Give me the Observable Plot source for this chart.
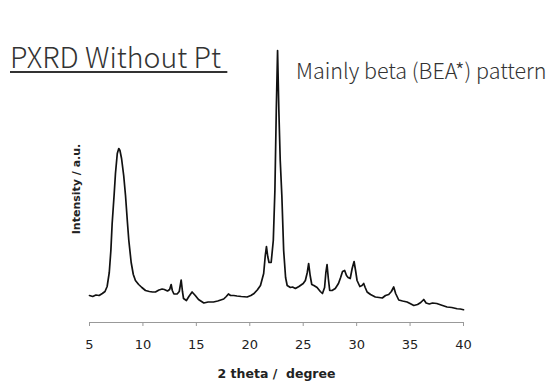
<!DOCTYPE html>
<html>
<head>
<meta charset="utf-8">
<script src="https://cdn.jsdelivr.net/npm/d3@7"></script>
<script src="https://cdn.jsdelivr.net/npm/@observablehq/plot@0.6"></script>
<style>
  html, body { margin: 0; padding: 0; background: #fff; }
  #wrap { position: relative; width: 550px; height: 381px; overflow: hidden; }
  #title { position: absolute; left: 10px; top: 35px; font-family: "Noto Sans CJK JP", "Noto Sans", sans-serif; font-size: 28.5px; font-weight: 300; color: #333; text-decoration: underline; text-decoration-thickness: 2px; text-underline-offset: 3px; white-space: pre; }
  #note { position: absolute; left: 296px; top: 54px; font-family: "Noto Sans CJK JP", "Noto Sans", sans-serif; font-size: 21.5px; font-weight: 300; color: #333; white-space: pre; }
</style>
</head>
<body>
<div id="wrap">
  <div id="chart"></div>
  <div id="title">PXRD Without Pt </div>
  <div id="note">Mainly beta (BEA*) pattern</div>
</div>
<script>
const twoTheta = [
  5.0, 5.3, 5.6, 5.9, 6.2, 6.45, 6.65, 6.85, 7.0, 7.12, 7.3, 7.43, 7.6, 7.74, 7.85, 8.0, 8.2, 8.37, 8.55, 8.68,
  8.9, 9.1, 9.3, 9.6, 9.9, 10.24, 10.6, 10.9, 11.17, 11.5, 11.8, 12.0, 12.3, 12.5, 12.64, 12.75, 12.9, 13.2, 13.4, 13.58,
  13.7, 13.8, 14.07, 14.3, 14.6, 14.9, 15.2, 15.7, 16.1, 16.6, 17.0, 17.56, 17.8, 18.0, 18.2, 18.5, 18.8, 19.2, 19.75, 20.1,
  20.4, 20.7, 21.0, 21.3, 21.45, 21.56, 21.68, 21.8, 22.0, 22.2, 22.35, 22.48, 22.6, 22.72, 22.85, 23.0, 23.17, 23.35, 23.5, 23.8,
  24.0, 24.27, 24.6, 25.0, 25.2, 25.38, 25.51, 25.65, 25.8, 26.0, 26.3, 26.6, 26.8, 27.0, 27.12, 27.23, 27.35, 27.48, 27.7, 28.0,
  28.3, 28.5, 28.68, 28.88, 29.05, 29.2, 29.4, 29.58, 29.76, 29.9, 30.04, 30.3, 30.5, 30.66, 30.8, 30.98, 31.3, 31.75, 32.1, 32.4,
  32.7, 33.0, 33.25, 33.47, 33.65, 33.94, 34.3, 34.72, 35.0, 35.35, 35.7, 36.0, 36.28, 36.5, 36.8, 37.1, 37.5, 37.9, 38.46, 38.9,
  39.4, 39.7, 40.0
];
const intensity = [
  1080, 1040, 1100, 1080, 1160, 1240, 1440, 2000, 2880, 3960, 5080, 5960, 6760, 6960, 6880, 6560, 5880, 5080, 4000, 3280,
  2400, 1920, 1680, 1520, 1400, 1280, 1240, 1220, 1220, 1300, 1340, 1320, 1260, 1320, 1520, 1280, 1140, 1140, 1240, 1700,
  1240, 960, 880, 1040, 1220, 1080, 920, 780, 820, 820, 860, 940, 1040, 1140, 1080, 1080, 1060, 1040, 1020, 1080,
  1160, 1300, 1480, 1960, 2680, 3040, 2640, 2400, 2400, 3280, 5280, 8480, 10880, 8480, 6480, 5080, 2880, 1800, 1480, 1400,
  1420, 1360, 1440, 1560, 1680, 2000, 2360, 1880, 1520, 1480, 1400, 1240, 1160, 1400, 2000, 2320, 1760, 1280, 1280, 1360,
  1560, 1800, 2040, 2080, 1880, 1800, 1760, 2160, 2440, 2080, 1680, 1440, 1480, 1560, 1400, 1220, 1120, 1020, 1000, 980,
  1080, 1120, 1240, 1420, 1160, 900, 860, 820, 760, 680, 720, 800, 920, 780, 740, 780, 760, 700, 620, 600,
  550, 540, 510
];
const xTicks = [5, 10, 15, 20, 25, 30, 35, 40];
const xLabel = "2 theta /  degree";
const yLabel = "Intensity / a.u.";

const data = twoTheta.map((t, i) => ({t, v: intensity[i]}));

const chart = Plot.plot({
  width: 550,
  height: 381,
  marginLeft: 89,
  marginRight: 87,
  marginTop: 47,
  marginBottom: 59,
  style: {fontFamily: "DejaVu Sans, Verdana, sans-serif", background: "#fff"},
  x: {domain: [5, 40]},
  y: {domain: [0, 11000], axis: null},
  marks: [
    Plot.ruleY([0], {stroke: "#999", strokeWidth: 1}),
    Plot.axisX({ticks: xTicks, tickSize: 4, tickPadding: 13, tickFormat: d => String(d), fontSize: 13, fill: "#222", stroke: "#999", label: null}),
    Plot.line(data, {x: "t", y: "v", stroke: "#111", strokeWidth: 1.7}),
    Plot.text([xLabel], {frameAnchor: "bottom", lineAnchor: "middle", dy: 51, fontWeight: "bold", fontSize: 12.5, fill: "#222"}),
    Plot.text([yLabel], {frameAnchor: "left", textAnchor: "middle", dx: -13, dy: 4, rotate: -90, fontWeight: "bold", fontSize: 11, fill: "#222"})
  ]
});
document.getElementById("chart").appendChild(chart);
</script>
</body>
</html>
